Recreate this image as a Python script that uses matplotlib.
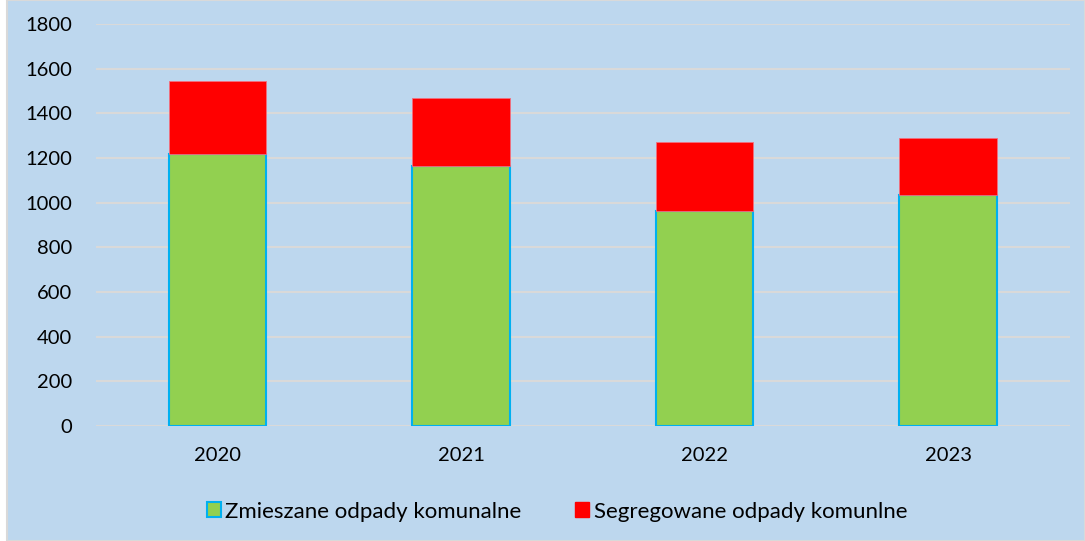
import matplotlib
matplotlib.use("Agg")
import matplotlib.pyplot as plt
from matplotlib.patches import Patch, Rectangle

years = ["2020", "2021", "2022", "2023"]
mixed = [1217, 1166, 964, 1033]
segregated = [326, 303, 306, 255]
series_labels = ["Zmieszane odpady komunalne", "Segregowane odpady komunlne"]
yticks = [0, 200, 400, 600, 800, 1000, 1200, 1400, 1600, 1800]

BG = "#BDD7EE"
GREEN = "#92D050"
BLUE_EDGE = "#00B0F0"
RED = "#FF0000"
GRID = "#D9D9D9"

plt.rcParams['font.family'] = ['Lato', 'DejaVu Sans']

W, H = 1085, 541
fig = plt.figure(figsize=(W / 100, H / 100), dpi=100)
fig.patch.set_facecolor("white")
fig.patches.append(Rectangle((7 / W, 0), 1 - 7 / W, 1, transform=fig.transFigure,
                             facecolor=BG, edgecolor=GRID, linewidth=1.5, zorder=-10))

ax = fig.add_axes([95.75 / W, (H - 426) / H, (1069.75 - 95.75) / W, (426 - 24) / H])
ax.set_facecolor("none")

x = list(range(len(years)))
ax.bar(x, mixed, width=0.4, color=GREEN, edgecolor=BLUE_EDGE, linewidth=1.5, zorder=3)
ax.bar(x, segregated, bottom=mixed, width=0.4, color=RED, edgecolor="#F07080",
       linewidth=0.6, zorder=3)

ax.set_xlim(-0.5, len(years) - 0.5)
ax.set_ylim(0, 1800)
ax.set_yticks(yticks)
ax.set_yticklabels([str(v) for v in yticks])
ax.set_xticks(x)
ax.set_xticklabels(years)
ax.yaxis.grid(True, color=GRID, linewidth=1.5, zorder=0)
ax.set_axisbelow(True)
for s in ax.spines.values():
    s.set_visible(False)
ax.tick_params(axis="both", length=0, labelsize=14.5, colors="black")
ax.tick_params(axis="y", pad=17)
ax.tick_params(axis="x", pad=15)

handles = [Patch(facecolor=GREEN, edgecolor=BLUE_EDGE, linewidth=1.5),
           Patch(facecolor=RED, edgecolor=RED)]
fig.legend(handles, series_labels, loc="center", bbox_to_anchor=(557 / W, (H - 511.5) / H),
           ncol=2, frameon=False, fontsize=16, handlelength=0.62, handleheight=0.62,
           handletextpad=0.22, columnspacing=2.4, borderpad=0, borderaxespad=0)

fig.savefig("out.png", dpi=100, facecolor=fig.get_facecolor())
